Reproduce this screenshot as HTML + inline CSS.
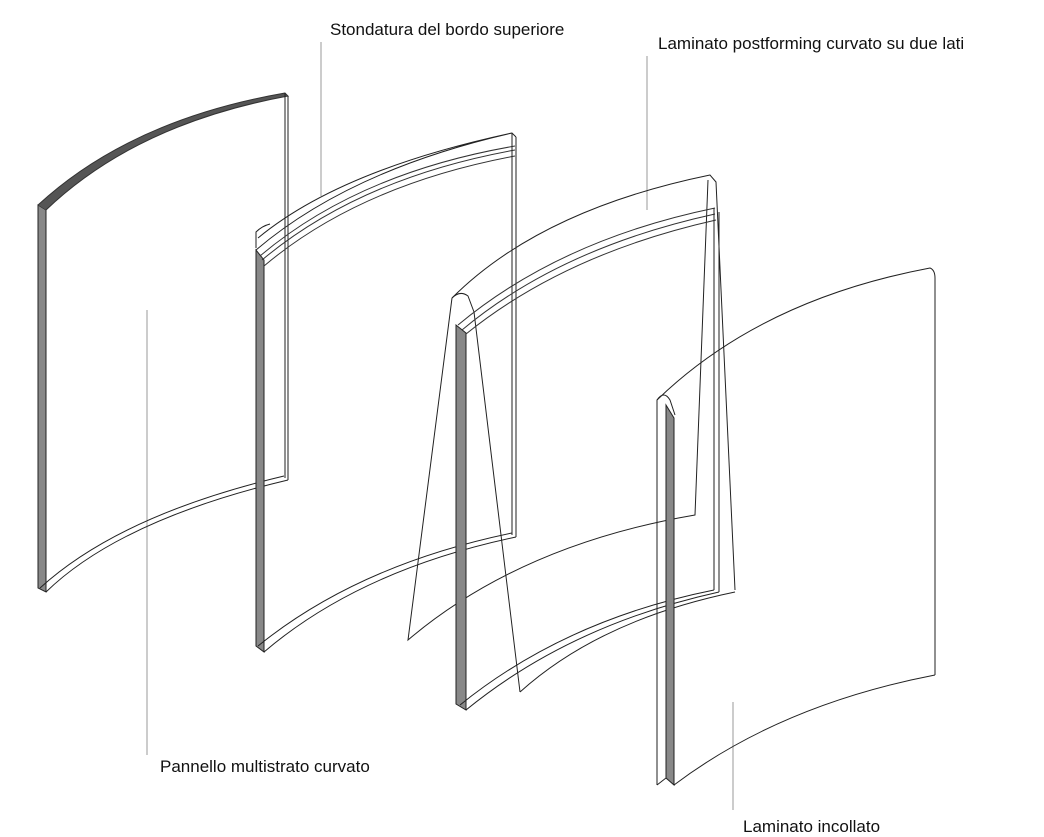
<!DOCTYPE html>
<html><head><meta charset="utf-8"><style>
html,body{margin:0;padding:0;background:#fff;}
svg{display:block}
text{font-family:"Liberation Sans",sans-serif;font-size:17px;fill:#111}
</style></head><body>
<svg width="1044" height="837" viewBox="0 0 1044 837" xmlns="http://www.w3.org/2000/svg">
<g fill="none" stroke="#222" stroke-width="1">
<!-- leader lines -->
<g stroke="#999">
<line x1="321" y1="42" x2="321" y2="196"/>
<line x1="147" y1="310" x2="147" y2="755"/>
<line x1="647" y1="56" x2="647" y2="210"/>
<line x1="733" y1="702" x2="733" y2="810"/>
</g>
<!-- Panel 1 -->
<path d="M38 205 L38 588 L46 592 L46 210 Z" fill="#888"/>
<path d="M38 205 Q130 120 285 93 L288 96 Q136 124 46 210" fill="#555" stroke="#333"/>
<path d="M285 93 L285 478 M288 96 L288 480"/>
<path d="M46 592 Q120 520 288 480 M40 588 Q120 515 284 476"/>
<!-- Panel 2 -->
<path d="M256 250 L256 646 L264 652 L264 260 Z" fill="#888"/>
<path d="M256 250 Q350 170 512 133 L516 137 M258 238 Q340 170 512 133"/>
<path d="M256 248 L256 232 Q262 226 270 224"/>
<path d="M262 260 Q360 178 515 150 M264 266 Q360 185 515 156 M260 256 Q358 173 515 146" stroke="#333"/>
<path d="M512 133 L512 535 M516 137 L516 537"/>
<path d="M264 652 Q360 570 516 537 M258 646 Q358 565 512 533"/>
<!-- Panel 3 laminate outer -->
<path d="M452 298 Q540 210 710 175 L716 182 L735 590"/>
<path d="M452 298 Q460 290 468 296 L474 312 L520 692"/>
<path d="M452 298 L408 640 Q520 545 695 515 L708 180"/>
<path d="M520 692 Q600 620 735 592"/>
<!-- Panel 3 -->
<path d="M456 325 L456 704 L466 710 L466 333 Z" fill="#888"/>
<path d="M458 325 Q560 240 715 208 M462 330 Q560 248 715 214 M466 334 Q565 254 716 220" stroke="#333"/>
<path d="M714 208 L714 590 M719 212 L719 592"/>
<path d="M466 710 Q570 625 719 592 M460 705 Q565 620 714 590"/>
<!-- Laminate 4 -->
<path d="M666 405 L666 778 L674 785 L674 418 Z" fill="#888"/>
<path d="M657 785 L657 400 Q664 390 670 400 L675 415"/>
<path d="M657 400 Q760 300 930 268 Q935 270 935 278 L935 675"/>
<path d="M674 785 Q780 705 935 675"/>
<path d="M657 785 L666 778"/>
</g>
<text x="330" y="35">Stondatura del bordo superiore</text>
<text x="658" y="49">Laminato postforming curvato su due lati</text>
<text x="160" y="772">Pannello multistrato curvato</text>
<text x="743" y="832">Laminato incollato</text>
</svg>
</body></html>
